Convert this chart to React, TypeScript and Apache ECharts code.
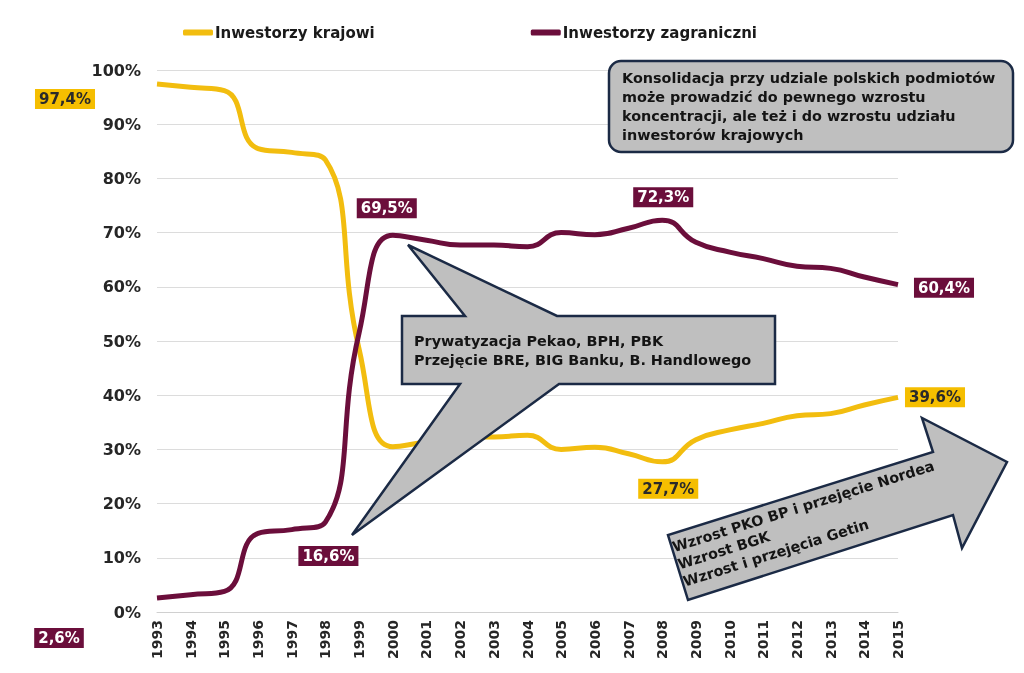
import React, { useEffect, useRef } from "react";
import * as echarts from "echarts";

const years = ["1993","1994","1995","1996","1997","1998","1999","2000","2001","2002","2003","2004","2005","2006","2007","2008","2009","2010","2011","2012","2013","2014","2015"];
const domestic = [97.4, 96.8, 96.2, 85.5, 84.8, 83.4, 48.5, 30.5, 31.4, 32.3, 32.3, 32.6, 30.0, 30.4, 29.2, 27.7, 31.8, 33.6, 34.8, 36.2, 36.6, 38.2, 39.6];
const foreign = [2.6, 3.2, 3.8, 14.5, 15.2, 16.6, 51.5, 69.5, 68.6, 67.7, 67.7, 67.4, 70.0, 69.6, 70.8, 72.3, 68.2, 66.4, 65.2, 63.8, 63.4, 61.8, 60.4];
const yTicks = { min: 0, max: 100, interval: 10 };

const seriesNames = ["Inwestorzy krajowi", "Inwestorzy zagraniczni"];
const colors = ["#F2BD0F", "#6B0E3B"];

// labels: [index, value, offset]
const domesticLabels: [number, number, [number, number]][] = [
  [0, 97.4, [-92, 15]],
  [15, 27.7, [6, 27]],
  [22, 39.6, [37, 0]],
];
const foreignLabels: [number, number, [number, number]][] = [
  [0, 2.6, [-98, 40]],
  [5, 16.6, [3, 34]],
  [7, 69.5, [-6, -27]],
  [15, 72.3, [1, -23]],
  [22, 60.4, [46, 3]],
];

const calloutTop = "Konsolidacja przy udziale polskich podmiotów\nmoże prowadzić do pewnego wzrostu\nkoncentracji, ale też i do wzrostu udziału\ninwestorów krajowych";
const calloutMid = "Prywatyzacja Pekao, BPH, PBK\nPrzejęcie BRE, BIG Banku, B. Handlowego";
const calloutArrow = "Wzrost PKO BP i przejęcie Nordea\nWzrost BGK\nWzrost i przejęcia Getin";

const FONT = "DejaVu Sans";
const CALLOUT_SIZE = 14.4;

function fmt(v: number) {
  return String(v).replace(".", ",") + "%";
}

function markPoints(labels: [number, number, [number, number]][], bg: string, fg: string) {
  return {
    symbol: "circle",
    symbolSize: 1,
    itemStyle: { color: "transparent" },
    label: {
      show: true,
      position: "inside",
      fontFamily: FONT,
      fontWeight: "bold",
      fontSize: 15,
      color: fg,
      backgroundColor: bg,
      padding: [3, 4, 2, 4],
      formatter: (p: any) => fmt(p.value),
    },
    data: labels.map(([i, v, off]) => ({
      coord: [years[i], v],
      value: v,
      label: { offset: off },
    })),
  };
}

export default function App() {
  const ref = useRef<HTMLDivElement>(null);
  useEffect(() => {
    if (!ref.current) return;
    const chart = echarts.init(ref.current, undefined, { renderer: "svg" });
    const stroke = "#1B2A45";
    const fill = "#BFBFBF";
    const textFill = "#141414";
    chart.setOption({
      animation: false,
      textStyle: { fontFamily: FONT },
      color: colors,
      legend: {
        data: seriesNames,
        left: 178,
        top: 20,
        itemWidth: 30,
        itemHeight: 6,
        itemGap: 156,
        selectedMode: false,
        icon: "roundRect",
        textStyle: { fontFamily: FONT, fontWeight: "bold", fontSize: 15, color: "#1a1a1a", padding: [0, 0, 0, -3] },
      },
      grid: { left: 157, right: 126, top: 70, bottom: 61 },
      xAxis: {
        type: "category",
        data: years,
        boundaryGap: false,
        axisLine: { lineStyle: { color: "#d0d0d0" } },
        axisTick: { show: false },
        axisLabel: { rotate: 90, interval: 0, margin: 8, fontSize: 14, fontWeight: "bold", color: "#262626", fontFamily: FONT },
      },
      yAxis: {
        type: "value",
        min: yTicks.min,
        max: yTicks.max,
        interval: yTicks.interval,
        axisLine: { show: false },
        axisTick: { show: false },
        splitLine: { lineStyle: { color: "#dcdcdc" } },
        axisLabel: { formatter: "{value}%", margin: 16, fontSize: 16, fontWeight: "bold", color: "#262626", fontFamily: FONT },
      },
      series: [
        {
          name: seriesNames[0],
          type: "line",
          data: domestic,
          smooth: true,
          showSymbol: false,
          lineStyle: { width: 5, color: colors[0] },
          itemStyle: { color: colors[0] },
          markPoint: markPoints(domesticLabels, "#F5BE00", "#2a2a2a"),
        },
        {
          name: seriesNames[1],
          type: "line",
          data: foreign,
          smooth: true,
          showSymbol: false,
          lineStyle: { width: 5, color: colors[1] },
          itemStyle: { color: colors[1] },
          markPoint: markPoints(foreignLabels, "#6B0E3B", "#ffffff"),
        },
      ],
      graphic: [
        {
          type: "rect",
          shape: { x: 609, y: 61, width: 404, height: 91, r: 12 },
          style: { fill, stroke, lineWidth: 2.5 },
          z: 100,
        },
        {
          type: "text",
          x: 622,
          y: 68,
          z: 101,
          style: { text: calloutTop, fontFamily: FONT, fontWeight: "bold", fontSize: CALLOUT_SIZE, lineHeight: 19, fill: textFill },
        },
        {
          type: "polygon",
          shape: {
            points: [
              [402, 316], [465, 316], [408, 245], [557, 316], [775, 316], [775, 384],
              [559, 384], [352, 535], [460, 384], [402, 384],
            ],
          },
          style: { fill, stroke, lineWidth: 2.5 },
          z: 100,
        },
        {
          type: "text",
          x: 414,
          y: 331,
          z: 101,
          style: { text: calloutMid, fontFamily: FONT, fontWeight: "bold", fontSize: CALLOUT_SIZE, lineHeight: 19, fill: textFill },
        },
        {
          type: "polygon",
          shape: {
            points: [[688, 600], [668, 535], [933, 452], [922, 418], [1007, 462], [962, 548], [953, 515]],
          },
          style: { fill, stroke, lineWidth: 2.5 },
          z: 100,
        },
        {
          type: "text",
          x: 670,
          y: 539,
          rotation: (17.5 * Math.PI) / 180,
          z: 101,
          style: { text: calloutArrow, fontFamily: FONT, fontWeight: "bold", fontSize: CALLOUT_SIZE, lineHeight: 18, fill: textFill },
        },
      ],
    });
    return () => chart.dispose();
  }, []);
  return <div ref={ref} style={{ position: "fixed", left: 0, top: 0, width: 1024, height: 673 }} />;
}
